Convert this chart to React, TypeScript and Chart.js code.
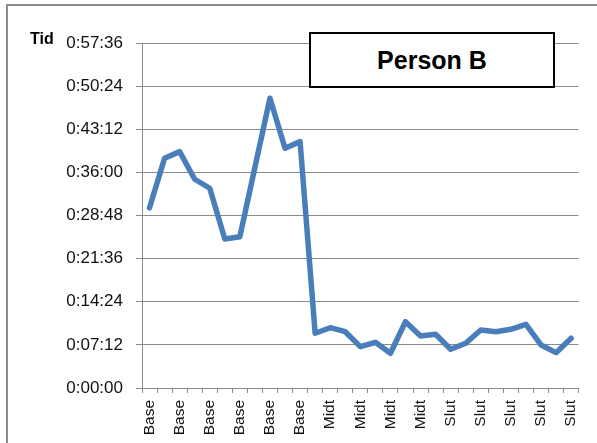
import React, { useEffect, useRef } from "react";
import { Chart, registerables } from "chart.js";

Chart.register(...registerables);

const categories: string[] = [
  "Base", "Base", "Base", "Base", "Base", "Base", "Base", "Base", "Base", "Base", "Base",
  "Midt", "Midt", "Midt", "Midt", "Midt", "Midt", "Midt", "Midt", "Midt",
  "Slut", "Slut", "Slut", "Slut", "Slut", "Slut", "Slut", "Slut", "Slut",
];

// time in seconds
const tidSeconds: number[] = [
  1805, 2302, 2368, 2091, 2001, 1493, 1516, 2210, 2903, 2402, 2468,
  548, 604, 564, 414, 458, 348, 664, 521, 538,
  388, 448, 581, 564, 588, 638, 431, 354, 498,
];

const yMax = 3456;
const yStep = 432;
const chartTitle = "Person B";
const yTitle = "Tid";

function fmt(sec: number): string {
  const h = Math.floor(sec / 3600);
  const m = Math.floor((sec % 3600) / 60);
  const s = Math.round(sec % 60);
  return `${h}:${String(m).padStart(2, "0")}:${String(s).padStart(2, "0")}`;
}

const FONT = "'Liberation Sans', Arial, sans-serif";
const GRID = "#8a8a8a";

export default function App() {
  const ref = useRef<HTMLCanvasElement | null>(null);

  useEffect(() => {
    if (!ref.current) return;
    const chart = new Chart(ref.current, {
      type: "line",
      data: {
        labels: categories,
        datasets: [
          {
            data: tidSeconds,
            borderColor: "#4a7ebb",
            borderWidth: 5.5,
            pointRadius: 0,
            tension: 0,
            borderJoinStyle: "round",
            borderCapStyle: "round",
          },
        ],
      },
      options: {
        responsive: false,
        animation: false,
        layout: { padding: { left: 0, top: 43, right: 18, bottom: 0 } },
        plugins: { legend: { display: false }, tooltip: { enabled: false }, title: { display: false } },
        scales: {
          x: {
            type: "category",
            offset: true,
            grid: {
              display: true,
              offset: true,
              drawOnChartArea: false,
              drawTicks: true,
              tickLength: 5,
              color: GRID,
            },
            border: { color: GRID, width: 1 },
            ticks: {
              autoSkip: false,
              maxRotation: 90,
              minRotation: 90,
              padding: 7,
              color: "#111",
              font: { family: FONT, size: 15.5 },
              callback: (_v: any, i: number) => (i % 2 === 0 ? categories[i] : ""),
            },
            afterFit: (s: any) => {
              s.height = 55;
            },
          },
          y: {
            min: 0,
            max: yMax,
            grid: { color: GRID, tickLength: 6, drawTicks: true },
            border: { color: GRID, width: 1 },
            ticks: {
              stepSize: yStep,
              padding: 13,
              color: "#111",
              font: { family: FONT, size: 17 },
              callback: (v: any) => fmt(Number(v)),
            },
            afterFit: (s: any) => {
              s.width = 142;
            },
          },
        },
      },
    });
    return () => chart.destroy();
  }, []);

  return (
    <div style={{ position: "fixed", left: 0, top: 0, width: 597, height: 443, background: "#fff", overflow: "hidden" }}>
      <div
        style={{
          position: "absolute",
          left: 6,
          top: 4,
          width: 620,
          height: 460,
          borderLeft: "2px solid #8c8c8c",
          borderTop: "2px solid #8c8c8c",
        }}
      />
      <canvas ref={ref} width={597} height={443} style={{ position: "absolute", left: 0, top: 0 }} />
      <div
        style={{
          position: "absolute",
          left: 30,
          top: 30,
          fontFamily: FONT,
          fontWeight: "bold",
          fontSize: 16,
          lineHeight: "18px",
          color: "#000",
        }}
      >
        {yTitle}
      </div>
      <div
        style={{
          position: "absolute",
          left: 309,
          top: 32,
          width: 242,
          height: 52,
          border: "2px solid #000",
          background: "#fff",
          display: "flex",
          alignItems: "center",
          justifyContent: "center",
          fontFamily: FONT,
          fontWeight: "bold",
          fontSize: 25,
          color: "#000",
        }}
      >
        {chartTitle}
      </div>
    </div>
  );
}
